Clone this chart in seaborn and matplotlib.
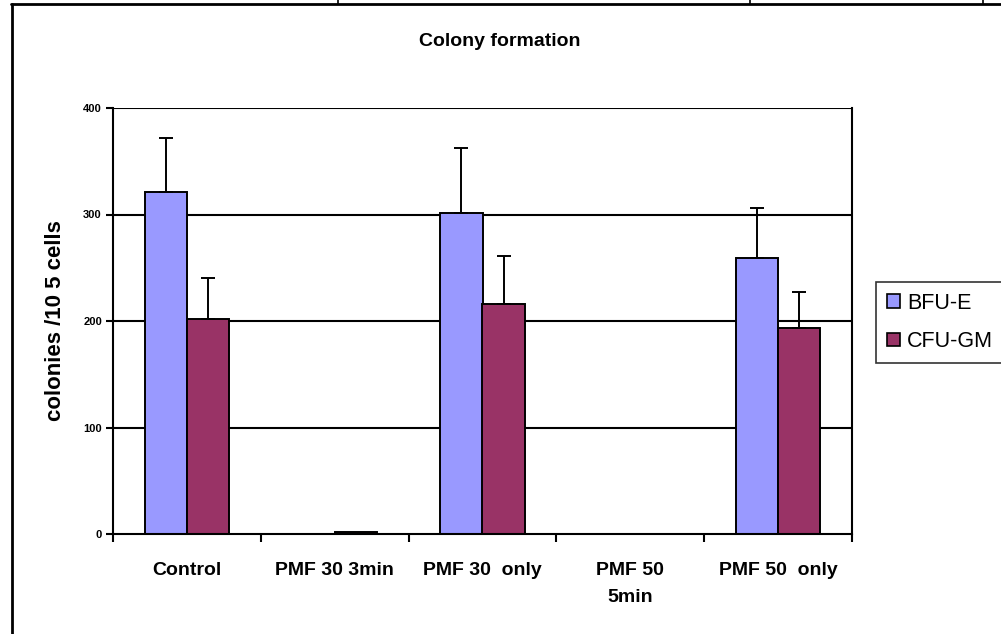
import numpy as np
import pandas as pd
import seaborn as sns
import matplotlib
matplotlib.use("Agg")
import matplotlib.pyplot as plt
from matplotlib.lines import Line2D
from matplotlib.patches import Patch
from matplotlib.ticker import FixedLocator

# Colony counts per 10^5 cells (mean and upper error)
categories = ["Control", "PMF 30 3min", "PMF 30  only", "PMF 50\n5min", "PMF 50  only"]
series = ["BFU-E", "CFU-GM"]
bfu_e = [321, 0, 301, 0, 259]
cfu_gm = [202, 2, 216, 0, 193]
bfu_e_err = [51, 0, 61, 0, 47]
cfu_gm_err = [38, 0, 45, 0, 34]
y_ticks = [0, 100, 200, 300, 400]
colors = ["#9999FF", "#993366"]

df = pd.DataFrame({
    "group": categories * 2,
    "assay": [series[0]] * len(categories) + [series[1]] * len(categories),
    "count": bfu_e + cfu_gm,
})

sns.set_theme(style="white")
plt.rcParams["font.family"] = ["Liberation Sans", "DejaVu Sans"]
plt.rcParams["text.color"] = "black"
plt.rcParams["axes.labelcolor"] = "black"
plt.rcParams["xtick.color"] = "black"
plt.rcParams["ytick.color"] = "black"

fig = plt.figure(figsize=(10.01, 6.34), dpi=100)
ax = fig.add_axes([113 / 1001, 100 / 634, 739 / 1001, 426 / 634])

for y in y_ticks[1:]:
    ax.axhline(y, color="black", lw=1.5, zorder=0)

sns.barplot(data=df, x="group", y="count", hue="assay", order=categories,
            hue_order=series, palette=colors, width=0.57, errorbar=None,
            edgecolor="black", linewidth=1.4, saturation=1, ax=ax, legend=False,
            zorder=2)

# upper error bars at each bar centre
errs = {series[0]: bfu_e_err, series[1]: cfu_gm_err}
vals = {series[0]: bfu_e, series[1]: cfu_gm}
bar_containers = list(ax.containers)
for name, cont in zip(series, bar_containers):
    xs = np.array([p.get_x() + p.get_width() / 2 for p in cont.patches])
    e = np.array(errs[name])
    v = np.array(vals[name])
    mask = e > 0
    ax.errorbar(xs[mask], v[mask], yerr=[np.zeros(mask.sum()), e[mask]],
                fmt="none", ecolor="black", elinewidth=1.4, capsize=5, capthick=1.4,
                zorder=3)

ax.set_xlim(-0.5, 4.5)
ax.set_ylim(0, 400)
ax.set_yticks(y_ticks)
ax.set_yticklabels([str(t) for t in y_ticks], fontsize=8, fontweight="bold")
ax.set_xticks(range(len(categories)))
ax.set_xticklabels(categories, fontsize=14, fontweight="bold", linespacing=1.75)
ax.xaxis.set_minor_locator(FixedLocator(np.arange(-0.5, 5, 1.0)))
ax.tick_params(axis="x", which="major", length=0, pad=20)
ax.tick_params(axis="x", which="minor", length=6, width=1.5, color="black",
               direction="out", bottom=True)
ax.tick_params(axis="y", length=5, width=1.5, color="black", direction="out",
               left=True, pad=3)
ax.set_xlabel("")
ax.set_ylabel("colonies /10 5 cells", fontsize=16, fontweight="bold")
ax.yaxis.set_label_coords((66 - 113) / 739, 0.5)

for side in ["left", "bottom", "right"]:
    ax.spines[side].set_visible(True)
    ax.spines[side].set_color("black")
    ax.spines[side].set_linewidth(1.5)
ax.spines["top"].set_visible(False)

fig.text(500 / 1001, 1 - 41 / 634, "Colony formation", ha="center", va="center",
         fontsize=14, fontweight="bold")

handles = [Patch(facecolor=c, edgecolor="black", linewidth=1.2, label=s)
           for c, s in zip(colors, series)]
leg = fig.legend(handles=handles, loc="upper left",
                 bbox_to_anchor=(876 / 1001, 1 - 282 / 634), fontsize=15.5,
                 frameon=True, fancybox=False, borderpad=0.5, labelspacing=0.8,
                 handlelength=0.6, handleheight=0.6, handletextpad=0.35,
                 borderaxespad=0)
leg.get_frame().set_edgecolor("black")
leg.get_frame().set_linewidth(1.2)

# outer frame of the chart area
fig.add_artist(Line2D([11 / 1001, 1.0], [1 - 4 / 634, 1 - 4 / 634],
                      color="black", lw=2, transform=fig.transFigure))
fig.add_artist(Line2D([12 / 1001, 12 / 1001], [0, 1 - 4 / 634],
                      color="black", lw=2, transform=fig.transFigure))
for xt in [338, 750, 983]:
    fig.add_artist(Line2D([xt / 1001, xt / 1001], [1 - 4 / 634, 1.0],
                          color="black", lw=1.2, transform=fig.transFigure))

fig.savefig("out.png", dpi=100)
